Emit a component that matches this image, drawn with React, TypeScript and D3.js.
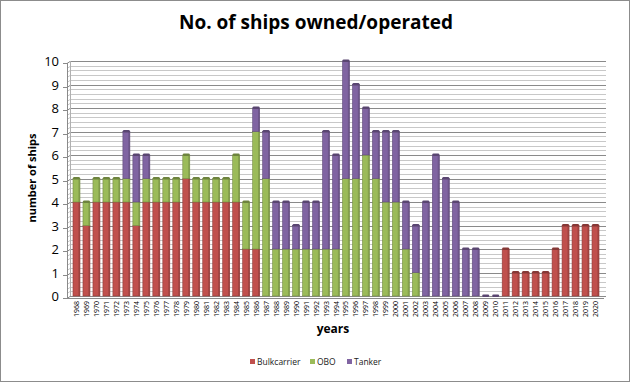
import { useEffect, useRef } from "react";
import * as d3 from "d3";

const years = d3.range(1968, 2021).map(String);
// values per year, 1968..2020
const bulkcarrier = [4, 3, 4, 4, 4, 4, 3, 4, 4, 4, 4, 5, 4, 4, 4, 4, 4, 2, 2, 0, 0, 0, 0, 0, 0, 0, 0, 0, 0, 0, 0, 0, 0, 0, 0, 0, 0, 0, 0, 0, 0, 0, 0, 2, 1, 1, 1, 1, 2, 3, 3, 3, 3];
const obo = [1, 1, 1, 1, 1, 1, 1, 1, 1, 1, 1, 1, 1, 1, 1, 1, 2, 2, 5, 5, 2, 2, 2, 2, 2, 2, 2, 5, 5, 6, 5, 4, 4, 2, 1, 0, 0, 0, 0, 0, 0, 0, 0, 0, 0, 0, 0, 0, 0, 0, 0, 0, 0];
const tanker = [0, 0, 0, 0, 0, 2, 2, 1, 0, 0, 0, 0, 0, 0, 0, 0, 0, 0, 1, 2, 2, 2, 1, 2, 2, 5, 4, 5, 4, 2, 2, 3, 3, 2, 2, 4, 6, 5, 4, 2, 2, 0, 0, 0, 0, 0, 0, 0, 0, 0, 0, 0, 0];
const seriesNames = ["Bulkcarrier", "OBO", "Tanker"];
const colors = ["#C0504D", "#9BBB59", "#8064A2"];
const yTicks = d3.range(0, 11);

const App = () => {
  const ref = useRef<SVGSVGElement>(null);

  useEffect(() => {
    if (!ref.current) return;
    const svg = d3.select(ref.current);
    svg.selectAll("*").remove();

    const font = "'Open Sans', 'DejaVu Sans', sans-serif";

    // outer frame
    svg.append("rect").attr("x", 0.5).attr("y", 0.5).attr("width", 629).attr("height", 381)
      .attr("fill", "#fff").attr("stroke", "#8c8c8c");

    svg.append("text").attr("x", 316).attr("y", 29).attr("text-anchor", "middle")
      .attr("font-family", font).attr("font-weight", "bold").attr("font-size", 19)
      .attr("fill", "#000").text("No. of ships owned/operated");

    const x = d3.scaleBand().domain(years).range([70, 602]).padding(0.3);
    const y = d3.scaleLinear().domain([0, 10]).range([296, 61]);

    // minor gridlines
    const g = svg.append("g");
    d3.range(0, 10.01, 0.2).forEach((v) => {
      const major = Math.abs(v - Math.round(v)) < 1e-6;
      g.append("line").attr("x1", 70).attr("x2", 606)
        .attr("y1", Math.round(y(v)) + 0.5).attr("y2", Math.round(y(v)) + 0.5)
        .attr("stroke", major ? "#8a8a8a" : "#c8c8c8").attr("stroke-width", 1);
      g.append("line").attr("x1", 67).attr("x2", 70)
        .attr("y1", Math.round(y(v)) + 2.5).attr("y2", Math.round(y(v)) + 0.5)
        .attr("stroke", major ? "#8a8a8a" : "#c8c8c8");
    });
    // back wall left edge and axis
    g.append("line").attr("x1", 70.5).attr("x2", 70.5).attr("y1", y(10)).attr("y2", y(0))
      .attr("stroke", "#b0b0b0");
    g.append("line").attr("x1", 67.5).attr("x2", 67.5).attr("y1", y(10) + 2).attr("y2", y(0) + 2)
      .attr("stroke", "#8a8a8a");
    g.append("line").attr("x1", 67).attr("x2", 604).attr("y1", y(0) + 2.5).attr("y2", y(0) + 2.5)
      .attr("stroke", "#8a8a8a");

    // y tick labels
    yTicks.forEach((t) => {
      svg.append("line").attr("x1", 63).attr("x2", 67).attr("y1", Math.round(y(t)) + 2.5).attr("y2", Math.round(y(t)) + 2.5)
        .attr("stroke", "#8a8a8a");
      svg.append("text").attr("x", 59).attr("y", y(t) + 5).attr("text-anchor", "end")
        .attr("font-family", font).attr("font-size", 13).attr("fill", "#000").text(String(t));
    });

    // stacked bars
    const table = years.map((yr, i) => ({ year: yr, Bulkcarrier: bulkcarrier[i], OBO: obo[i], Tanker: tanker[i] }));
    const stack = d3.stack<any>().keys(seriesNames)(table);
    const bw = x.bandwidth();
    stack.forEach((layer, si) => {
      const col = d3.color(colors[si])!;
      const dark = col.darker(0.8).formatHex();
      layer.forEach((d) => {
        const x0 = x(d.data.year)!;
        const top = y(d[1]);
        const h = y(d[0]) - y(d[1]);
        if (h <= 0) return;
        svg.append("rect").attr("x", x0).attr("y", top).attr("width", bw).attr("height", h)
          .attr("fill", colors[si]).attr("stroke", dark).attr("stroke-width", 0.6);
        svg.append("rect").attr("x", x0 + bw - 1.6).attr("y", top).attr("width", 1.6).attr("height", h)
          .attr("fill", dark).attr("opacity", 0.6);
      });
    });
    // caps on top of each column
    table.forEach((d, i) => {
      const total = bulkcarrier[i] + obo[i] + tanker[i];
      const si = tanker[i] > 0 ? 2 : obo[i] > 0 ? 1 : 0;
      const x0 = x(d.year)!;
      svg.append("rect").attr("x", x0).attr("y", y(total) - 1.5).attr("width", bw).attr("height", 2.5)
        .attr("rx", 1.2).attr("fill", d3.color(total > 0 ? colors[si] : "#8064A2")!.darker(1).formatHex());
    });

    // x tick labels
    years.forEach((yr) => {
      const cx = x(yr)! + bw / 2 + 2.5;
      svg.append("text").attr("transform", `translate(${cx},301) rotate(-90)`)
        .attr("text-anchor", "end").attr("font-family", font).attr("font-size", 7).attr("fill", "#000").text(yr);
    });

    svg.append("text").attr("x", 333).attr("y", 333).attr("text-anchor", "middle")
      .attr("font-family", font).attr("font-weight", "bold").attr("font-size", 12).text("years");
    svg.append("text").attr("transform", "translate(36,178) rotate(-90)").attr("text-anchor", "middle")
      .attr("font-family", font).attr("font-weight", "bold").attr("font-size", 11).text("number of ships");

    // legend
    const lx = [250, 310, 347];
    seriesNames.forEach((n, i) => {
      svg.append("rect").attr("x", lx[i]).attr("y", 359).attr("width", 5).attr("height", 5).attr("fill", colors[i]);
      svg.append("text").attr("x", lx[i] + 7).attr("y", 365).attr("font-family", font).attr("font-size", 8.5)
        .attr("fill", "#222").text(n);
    });
  }, []);

  return <svg ref={ref} width={632} height={385} style={{ position: "absolute", left: 0, top: 0 }} />;
};

export default App;
